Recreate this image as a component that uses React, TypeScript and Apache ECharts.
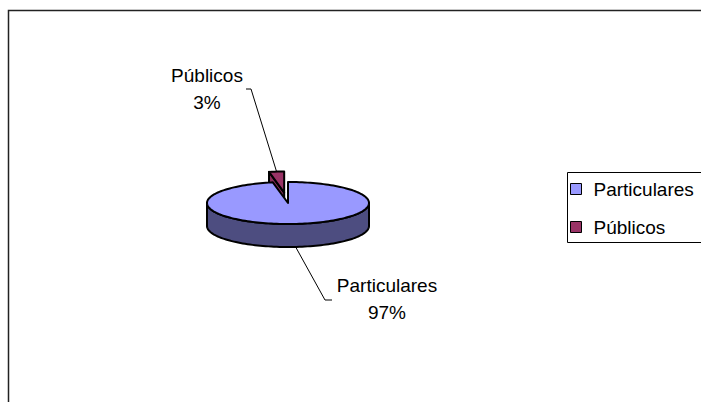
import React, { useEffect, useRef } from "react";
import * as echarts from "echarts";

// ---- data ----
const categories: string[] = ["Particulares", "Públicos"];
const values: number[] = [97, 3];

// ---- style / layout ----
const topColors = ["#9999FF", "#993366"];
const sideColors = ["#4D4D80", "#862D59"];
const explode = [0, 0.5];
const CX = 288;
const CY = 203;
const RX = 81;
const RY = 21;
const DEPTH = 23;
const FONT = '19px "Liberation Sans", Arial, sans-serif';
const labelLayout = [
  { x: 387, y: 298.5, elbow: [[325, 300], [332, 300]] },
  { x: 207, y: 89, elbow: [[251, 89], [246, 89]] },
];

const total = values.reduce((a, b) => a + b, 0);
const starts: number[] = [];
{
  let c = 0;
  for (const v of values) {
    starts.push(c);
    c += v;
  }
}

function makeRenderItem(idx: number) {
  return (params: any, api: any) => {
    const v = api.value(0);
    const t1 = (starts[idx] / total) * 360;
    const t2 = ((starts[idx] + v) / total) * 360;
    const mid = ((t1 + t2) / 2) * (Math.PI / 180);
    const ox = explode[idx] * RX * Math.sin(mid);
    const oy = -explode[idx] * RY * Math.cos(mid);
    const pt = (th: number, dz = 0) => {
      const r = (th * Math.PI) / 180;
      return [CX + ox + RX * Math.sin(r), CY + oy - RY * Math.cos(r) + dz];
    };
    const apexT = [CX + ox, CY + oy];
    const apexB = [CX + ox, CY + oy + DEPTH];
    const stroke = { stroke: "#000", lineWidth: 2, lineJoin: "round" };
    const children: any[] = [];
    const eps = 0.02;
    // cut faces
    const s1 = Math.sin((t1 * Math.PI) / 180);
    const s2 = Math.sin((t2 * Math.PI) / 180);
    if (t2 - t1 < 360) {
      if (s1 < -eps) {
        children.push({
          type: "polygon",
          shape: { points: [apexT, pt(t1), pt(t1, DEPTH), apexB] },
          style: { fill: sideColors[idx], ...stroke },
        });
      }
      if (s2 > eps) {
        children.push({
          type: "polygon",
          shape: { points: [apexT, pt(t2), pt(t2, DEPTH), apexB] },
          style: { fill: sideColors[idx], ...stroke },
        });
      }
    }
    // outer side (front half)
    const a = Math.max(t1, 90);
    const b = Math.min(t2, 270);
    if (b > a) {
      const topArc: number[][] = [];
      const botArc: number[][] = [];
      for (let th = a; th < b; th += 2) {
        topArc.push(pt(th));
        botArc.push(pt(th, DEPTH));
      }
      topArc.push(pt(b));
      botArc.push(pt(b, DEPTH));
      children.push({
        type: "polygon",
        shape: { points: [...topArc, ...botArc.reverse()] },
        style: { fill: sideColors[idx], ...stroke },
      });
    }
    // top face
    const topPts: number[][] = [apexT];
    for (let th = t1; th < t2; th += 2) topPts.push(pt(th));
    topPts.push(pt(t2));
    children.push({
      type: "polygon",
      shape: { points: topPts },
      style: { fill: topColors[idx], ...stroke },
    });
    // leader line
    const midDeg = (t1 + t2) / 2;
    const front = Math.cos(mid) < 0;
    const start = front ? pt(midDeg, DEPTH) : pt(midDeg);
    const lay = labelLayout[idx];
    children.push({
      type: "polyline",
      shape: { points: [start, ...lay.elbow] },
      style: { stroke: "#000", lineWidth: 1, fill: null },
    });
    const pct = Math.round((v / total) * 100) + "%";
    children.push({
      type: "text",
      style: {
        text: categories[idx],
        x: lay.x,
        y: lay.y - 13.5,
        align: "center",
        verticalAlign: "middle",
        font: FONT,
        fill: "#000",
      },
    });
    children.push({
      type: "text",
      style: {
        text: pct,
        x: lay.x,
        y: lay.y + 13.5,
        align: "center",
        verticalAlign: "middle",
        font: FONT,
        fill: "#000",
      },
    });
    return { type: "group", children };
  };
}

export default function App() {
  const ref = useRef<HTMLDivElement>(null);
  useEffect(() => {
    document.body.style.margin = "0";
    if (!ref.current) return;
    const chart = echarts.init(ref.current, null, { renderer: "svg" });
    chart.setOption({
      animation: false,
      backgroundColor: "#fff",
      graphic: [
        {
          type: "rect",
          shape: { x: 8.5, y: 10.5, width: 900, height: 600 },
          style: { fill: "none", stroke: "#222", lineWidth: 1.5 },
          z: 0,
        },
        {
          type: "rect",
          shape: { x: 567.5, y: 172.5, width: 300, height: 70 },
          style: { fill: "#fff", stroke: "#000", lineWidth: 1 },
          z: 1,
        },
      ],
      legend: {
        orient: "vertical",
        left: 570,
        top: 178,
        padding: 0,
        itemWidth: 11,
        itemHeight: 11,
        itemGap: 16,
        icon: "rect",
        selectedMode: false,
        itemStyle: { borderColor: "#000", borderWidth: 1 },
        textStyle: {
          fontFamily: '"Liberation Sans", Arial, sans-serif',
          fontSize: 19,
          color: "#000",
          lineHeight: 22,
          padding: [0, 0, 0, 7],
        },
        data: categories,
        z: 5,
      },
      series: categories.map((name, i) => ({
        type: "custom",
        name,
        coordinateSystem: "none",
        z: i === 0 ? 3 : 2,
        itemStyle: { color: topColors[i] },
        renderItem: makeRenderItem(i),
        data: [[values[i]]],
      })),
    });
    return () => chart.dispose();
  }, []);
  return <div ref={ref} style={{ width: 701, height: 402 }} />;
}
